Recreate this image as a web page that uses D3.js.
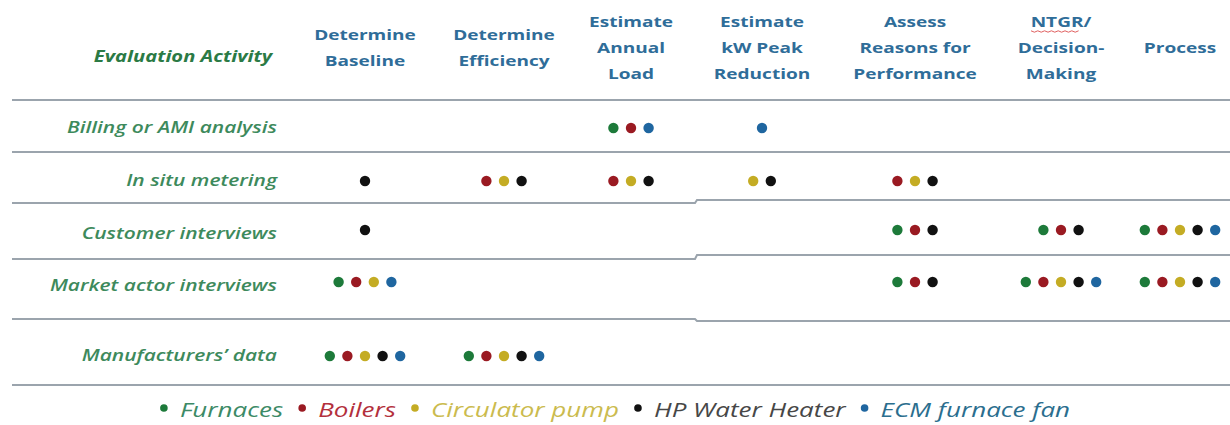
<!DOCTYPE html>
<html><head><meta charset="utf-8">
<script src="https://cdn.jsdelivr.net/npm/d3@7"></script>
<style>body{margin:0;background:#fff}svg{display:block}</style>
</head><body><svg id="c" width="1230" height="425"></svg>
<script>
// ---------- data ----------
const activities = ["Billing or AMI analysis", "In situ metering", "Customer interviews", "Market actor interviews", "Manufacturers’ data"];
const objectives = ["Determine Baseline", "Determine Efficiency", "Estimate Annual Load", "Estimate kW Peak Reduction", "Assess Reasons for Performance", "NTGR/ Decision-Making", "Process"];
const objectiveLines = [["Determine", "Baseline"], ["Determine", "Efficiency"], ["Estimate", "Annual", "Load"], ["Estimate", "kW Peak", "Reduction"], ["Assess", "Reasons for", "Performance"], ["NTGR/", "Decision-", "Making"], ["Process"]];
const technologies = ["Furnaces", "Boilers", "Circulator pump", "HP Water Heater", "ECM furnace fan"];
// technology indices used per objective (0 Furnaces,1 Boilers,2 Circulator,3 HPWH,4 ECM)
const billingAMI      = [[], [], [0, 1, 4], [4], [], [], []];
const inSituMetering  = [[3], [1, 2, 3], [1, 2, 3], [2, 3], [1, 2, 3], [], []];
const customerInt     = [[3], [], [], [], [0, 1, 3], [0, 1, 3], [0, 1, 2, 3, 4]];
const marketActorInt  = [[0, 1, 2, 4], [], [], [], [0, 1, 3], [0, 1, 2, 3, 4], [0, 1, 2, 3, 4]];
const manufacturers   = [[0, 1, 2, 3, 4], [0, 1, 2, 3, 4], [], [], [], [], []];
const matrix = [billingAMI, inSituMetering, customerInt, marketActorInt, manufacturers];

// ---------- styles ----------
const dotColors = ["#1d7a3a", "#9a1a22", "#c4ac24", "#111111", "#1f66a0"];
const legendColors = ["#3c8a66", "#b3303c", "#cbbb4e", "#474747", "#2b6e8e"];
const headerColor = "#2f6d99";
const labelColor = "#3d8a5c";
const ruleColor = "#9ba4ad";
const SX = 1.27; // horizontal stretch of the original's text

const svg = d3.select("#c");

const x = d3.scaleOrdinal().domain(objectives).range([365, 504, 631, 762, 915, 1061, 1180]);
const y = d3.scaleOrdinal().domain(activities).range([128, 181, 230, 282, 356]);
const dotStep = 17.6;

// rules
const rules = [
  [[12, 100], [1230, 100]],
  [[12, 152], [1230, 152]],
  [[12, 203], [695, 203], [697, 200], [1230, 200]],
  [[12, 259], [695, 259], [697, 255], [1230, 255]],
  [[12, 319], [695, 319], [697, 321], [1230, 321]],
  [[12, 385], [1230, 385]]
];
svg.append("g").selectAll("path").data(rules).join("path")
  .attr("d", d3.line())
  .attr("fill", "none").attr("stroke", ruleColor).attr("stroke-width", 2);

function stretched(sel, px, py, sx) {
  return sel.attr("transform", `translate(${px},${py}) scale(${sx || SX},1)`);
}

// header
const head = svg.append("g").attr("font-family", "Open Sans").attr("font-weight", 700)
  .attr("font-size", 15).attr("fill", headerColor).attr("text-anchor", "middle");
objectives.forEach((o, i) => {
  const lines = objectiveLines[i];
  lines.forEach((ln, k) => {
    const ty = 48 + (k - (lines.length - 1) / 2) * 26;
    stretched(head.append("text").attr("dy", "0.35em").text(ln), x(o), ty);
  });
});
// spell-check squiggle under NTGR
(function () {
  const cx = x(objectives[5]);
  const pts = d3.range(0, 15).map(j => [cx - 30 + j * 3.4, 31 + (j % 2 ? 1.2 : -0.2)]);
  svg.append("path").attr("d", d3.line()(pts)).attr("fill", "none").attr("stroke", "#e06060").attr("stroke-width", 1);
})();

stretched(svg.append("text").attr("font-family", "Open Sans").attr("font-weight", 700).attr("font-style", "italic")
  .attr("font-size", 15.5).attr("fill", "#2b7a45").attr("text-anchor", "middle").attr("dy", "0.35em")
  .text("Evaluation Activity"), 183, 57, 1.3);

// row labels
const lab = svg.append("g").attr("font-family", "Open Sans").attr("font-weight", 600).attr("font-style", "italic")
  .attr("font-size", 15.5).attr("fill", labelColor).attr("text-anchor", "end");
activities.forEach((a, r) => {
  stretched(lab.append("text").attr("dy", "0.35em").text(a), 277, y(a) + (r >= 2 && r <= 3 ? 4 : 0), 1.35);
});

// dots
const cells = [];
matrix.forEach((row, r) => row.forEach((techs, c) => techs.forEach((t, k) => {
  cells.push({a: activities[r], o: objectives[c], t, k, n: techs.length});
})));
svg.append("g").selectAll("circle").data(cells).join("circle")
  .attr("cx", d => x(d.o) + (d.k - (d.n - 1) / 2) * dotStep)
  .attr("cy", d => y(d.a))
  .attr("r", 5.2)
  .attr("fill", d => dotColors[d.t]);

// legend
const leg = svg.append("g");
const LSX = 1.3;
let cursor = 0;
technologies.forEach((t, i) => {
  leg.append("circle").attr("cx", cursor + 4).attr("cy", -9).attr("r", 3.8).attr("fill", dotColors[i]);
  cursor += 20;
  const tx = leg.append("text").attr("font-family", "Open Sans").attr("font-style", "italic")
    .attr("font-size", 20).attr("fill", legendColors[i]).text(t);
  stretched(tx, cursor, 0, LSX);
  cursor += tx.node().getComputedTextLength() * LSX + 15;
});
const legW = cursor - 15;
leg.attr("transform", `translate(${615 - legW / 2},417)`);
</script></body></html>
